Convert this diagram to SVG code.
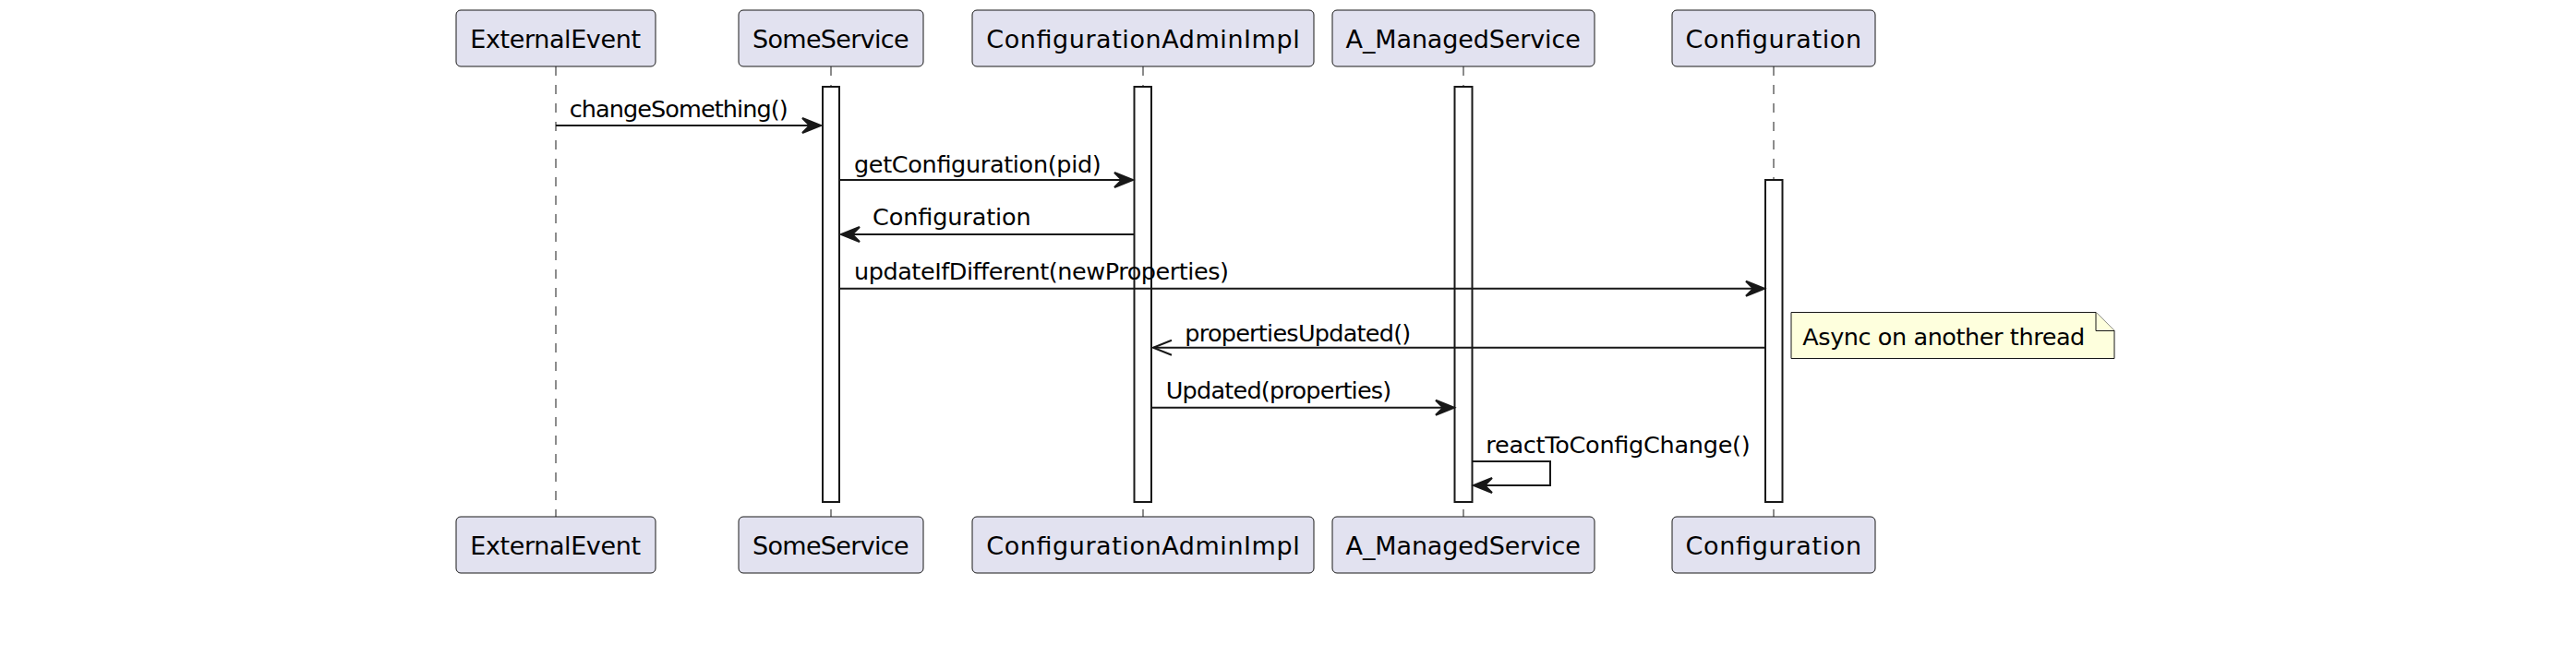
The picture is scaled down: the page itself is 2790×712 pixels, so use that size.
<svg xmlns="http://www.w3.org/2000/svg" width="2790" height="712" viewBox="0 0 2790 712">
<style>
.box{fill:#E2E2F0;stroke:#181818;stroke-width:1}
.pt{font-family:"DejaVu Sans","Liberation Sans",sans-serif;font-size:27px;fill:#000000}
.mt{font-family:"DejaVu Sans","Liberation Sans",sans-serif;font-size:25.5px;fill:#000000}
.life{stroke:#181818;stroke-width:1;stroke-dasharray:10,10;fill:none}
.bar{fill:#FFFFFF;stroke:#181818;stroke-width:2}
.msg{stroke:#181818;stroke-width:2;fill:none}
.head{fill:#181818;stroke:#181818;stroke-width:2;stroke-linejoin:miter}
.note{fill:#FEFFDD;stroke:#181818;stroke-width:1}
</style>
<rect x="0" y="0" width="2790" height="712" fill="#FFFFFF"/>
<g id="lifelines">
<line class="life" x1="602" y1="72" x2="602" y2="560"/>
<line class="life" x1="900" y1="72" x2="900" y2="560"/>
<line class="life" x1="1238" y1="72" x2="1238" y2="560"/>
<line class="life" x1="1585" y1="72" x2="1585" y2="560"/>
<line class="life" x1="1921" y1="72" x2="1921" y2="560"/>
</g>
<g id="activations">
<rect class="bar" x="891" y="94" width="18" height="450"/>
<rect class="bar" x="1228.5" y="94" width="18.5" height="450"/>
<rect class="bar" x="1575.5" y="94" width="19" height="450"/>
<rect class="bar" x="1912" y="195" width="18.5" height="349"/>
</g>
<g id="ExternalEvent">
<rect class="box" x="494" y="11" width="216" height="61" rx="5"/>
<text class="pt" x="509.3" y="51.7" textLength="184.7">ExternalEvent</text>
<rect class="box" x="494" y="560" width="216" height="61" rx="5"/>
<text class="pt" x="509.3" y="600.5" textLength="184.7">ExternalEvent</text>
</g>
<g id="SomeService">
<rect class="box" x="800" y="11" width="200" height="61" rx="5"/>
<text class="pt" x="815" y="51.7" textLength="169.6">SomeService</text>
<rect class="box" x="800" y="560" width="200" height="61" rx="5"/>
<text class="pt" x="815" y="600.5" textLength="169.6">SomeService</text>
</g>
<g id="ConfigurationAdminImpl">
<rect class="box" x="1053" y="11" width="370" height="61" rx="5"/>
<text class="pt" x="1068.3" y="51.7" textLength="339.4">ConfigurationAdminImpl</text>
<rect class="box" x="1053" y="560" width="370" height="61" rx="5"/>
<text class="pt" x="1068.3" y="600.5" textLength="339.4">ConfigurationAdminImpl</text>
</g>
<g id="A_ManagedService">
<rect class="box" x="1443" y="11" width="284" height="61" rx="5"/>
<text class="pt" x="1457.6" y="51.7" textLength="254.2">A_ManagedService</text>
<rect class="box" x="1443" y="560" width="284" height="61" rx="5"/>
<text class="pt" x="1457.6" y="600.5" textLength="254.2">A_ManagedService</text>
</g>
<g id="Configuration">
<rect class="box" x="1811" y="11" width="220" height="61" rx="5"/>
<text class="pt" x="1825.5" y="51.7" textLength="190.7">Configuration</text>
<rect class="box" x="1811" y="560" width="220" height="61" rx="5"/>
<text class="pt" x="1825.5" y="600.5" textLength="190.7">Configuration</text>
</g>
<g id="connectors">
<line class="msg" x1="602" y1="136" x2="880" y2="136"/>
<polygon class="head" points="869,128 889,136 869,144 877,136"/>
<text class="mt" x="616.7" y="127.3" textLength="237">changeSomething()</text>

<line class="msg" x1="910" y1="195" x2="1218" y2="195"/>
<polygon class="head" points="1207,187 1227,195 1207,203 1215,195"/>
<text class="mt" x="925" y="186.7" textLength="267.7">getConfiguration(pid)</text>

<line class="msg" x1="1228" y1="254" x2="920" y2="254"/>
<polygon class="head" points="931,246 911,254 931,262 923,254"/>
<text class="mt" x="945" y="244" textLength="171.7">Configuration</text>

<line class="msg" x1="910" y1="312.7" x2="1902" y2="312.7"/>
<polygon class="head" points="1891,304.7 1911,312.7 1891,320.7 1899,312.7"/>
<text class="mt" x="925" y="303.3" textLength="406">updateIfDifferent(newProperties)</text>

<line class="msg" x1="1912" y1="376.7" x2="1249" y2="376.7"/>
<polyline class="msg" points="1269,368.7 1249,376.7 1269,384.7"/>
<text class="mt" x="1283.3" y="370" textLength="245">propertiesUpdated()</text>

<line class="msg" x1="1248" y1="441.7" x2="1566" y2="441.7"/>
<polygon class="head" points="1555,433.7 1575,441.7 1555,449.7 1563,441.7"/>
<text class="mt" x="1262.7" y="431.7" textLength="244.6">Updated(properties)</text>

<polyline class="msg" points="1595,500 1679,500 1679,526 1604,526"/>
<polygon class="head" points="1616,518 1596,526 1616,534 1608,526"/>
<text class="mt" x="1609.3" y="490.7" textLength="286.4">reactToConfigChange()</text>
</g>
<g id="note">
<path class="note" d="M1940,338.5 L2270,338.5 L2290,358.5 L2290,388.5 L1940,388.5 Z"/>
<path class="note" d="M2270,338.5 L2270,358.5 L2290,358.5"/>
<text class="mt" x="1952.3" y="374" textLength="306">Async on another thread</text>
</g>
</svg>
